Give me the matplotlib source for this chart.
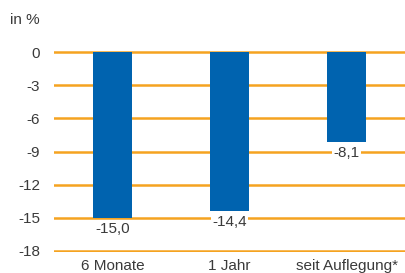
import matplotlib
matplotlib.use("Agg")
import matplotlib.pyplot as plt

categories = ["6 Monate", "1 Jahr", "seit Auflegung*"]
values = [-15.0, -14.4, -8.1]
value_labels = ["-15,0", "-14,4", "-8,1"]
yticks = [0, -3, -6, -9, -12, -15, -18]

plt.rcParams['font.family'] = ['Liberation Sans', 'DejaVu Sans']
txt = '#3a3a3a'
fs = 11
fig = plt.figure(figsize=(4.05, 2.73), dpi=100)
ax = fig.add_axes([54/405, 21/273, 351/405, 201/273])
x = list(range(len(categories)))
ax.bar(x, values, width=0.325, color='#0063AF', zorder=3)
for yv in yticks:
    ax.axhline(yv, color='#F5A320', lw=1.8, zorder=1)
for xi, v, lab in zip(x, values, value_labels):
    ax.annotate(lab, (xi, v), xytext=(0, -3), textcoords='offset points',
                ha='center', va='top', fontsize=fs, color=txt, zorder=4,
                bbox=dict(boxstyle='square,pad=0.1', fc='white', ec='none'))
ax.set_xlim(-0.5, 2.5)
ax.set_yticks(yticks)
ax.set_yticklabels([str(t) for t in yticks])
ax.set_xticks(x)
ax.set_xticklabels(categories)
ax.tick_params(length=0, labelsize=fs, colors=txt)
ax.tick_params(axis='y', pad=10)
ax.tick_params(axis='x', pad=5)
ax.set_ylim(-18.1, 0.1)
for s in ax.spines.values():
    s.set_visible(False)
fig.text(10/405, 1-20/273, "in %", fontsize=fs, color=txt, va='center', ha='left')
fig.savefig("out.png", dpi=100)
